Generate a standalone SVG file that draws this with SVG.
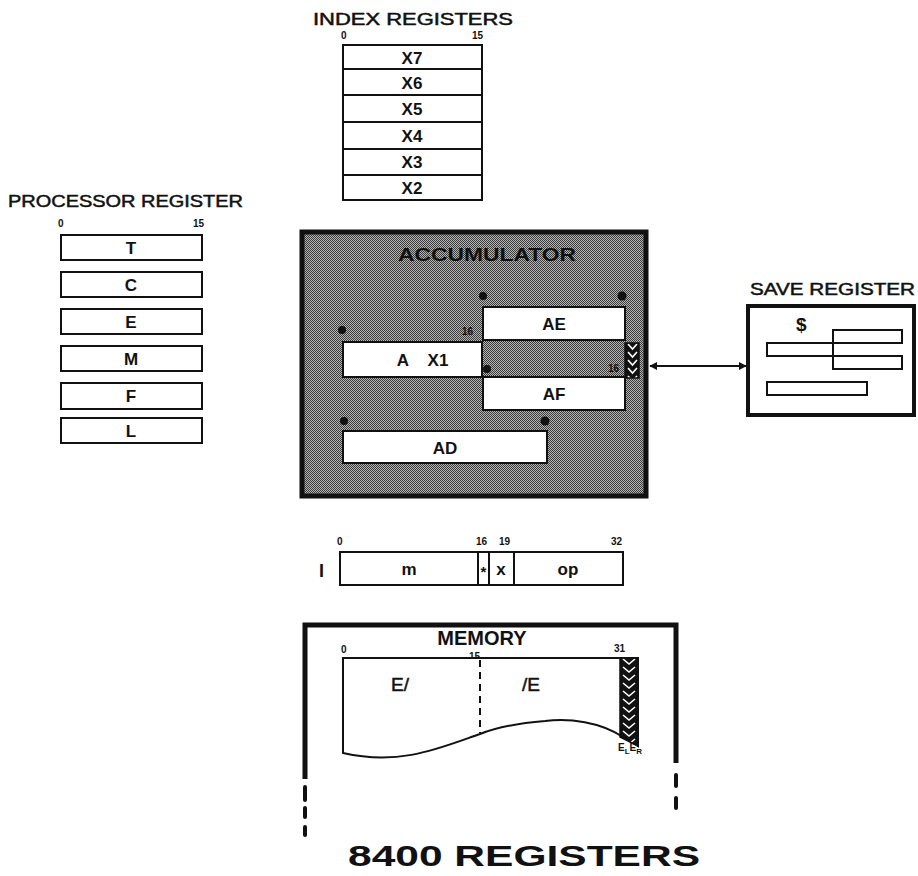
<svg xmlns="http://www.w3.org/2000/svg" width="918" height="876" viewBox="0 0 918 876">
<style>
.t{font-family:"Liberation Sans",Arial,sans-serif;fill:#111;}
.b{font-weight:bold;}
.box{fill:#fff;stroke:#111;stroke-width:2;}
.sm{font-family:"Liberation Sans",Arial,sans-serif;font-weight:bold;font-size:10px;fill:#111;}
.lbl{font-family:"Liberation Sans",Arial,sans-serif;font-weight:bold;font-size:17px;fill:#111;text-anchor:middle;}
.ttl{font-family:"Liberation Sans",Arial,sans-serif;font-size:17px;fill:#111;stroke:#111;stroke-width:0.5;}
</style>
<defs>
<pattern id="ht" width="2" height="2" patternUnits="userSpaceOnUse">
<rect width="2" height="2" fill="#b4b4b4"/>
<rect x="0" y="0" width="1" height="1" fill="#3c3c3c"/>
<rect x="1" y="1" width="1" height="1" fill="#3c3c3c"/>
</pattern>
<pattern id="chev" width="18" height="8" patternUnits="userSpaceOnUse" x="620" y="658">
<rect width="18" height="8" fill="#111"/>
<polyline points="3,1 9,6 15,1" fill="none" stroke="#fff" stroke-width="1.6"/>
</pattern>
<pattern id="chev2" width="15" height="8" patternUnits="userSpaceOnUse" x="625" y="343">
<rect width="15" height="8" fill="#111"/>
<polyline points="3,1 7.5,6 12,1" fill="none" stroke="#fff" stroke-width="1.6"/>
</pattern>
<marker id="ah" viewBox="0 0 10 10" refX="9" refY="5" markerWidth="8" markerHeight="8" orient="auto-start-reverse" markerUnits="userSpaceOnUse">
<path d="M0,0 L10,5 L0,10 z" fill="#111"/>
</marker>
</defs>
<rect width="918" height="876" fill="#fff"/>

<g id="index-registers">
<text class="ttl" x="313" y="25" textLength="200" lengthAdjust="spacingAndGlyphs">INDEX REGISTERS</text>
<text class="sm" x="341" y="39">0</text>
<text class="sm" x="472" y="39">15</text>
<rect class="box" x="343" y="45" width="139" height="155"/>
<line x1="343" y1="69" x2="482" y2="69" stroke="#111" stroke-width="2"/>
<line x1="343" y1="95" x2="482" y2="95" stroke="#111" stroke-width="2"/>
<line x1="343" y1="122" x2="482" y2="122" stroke="#111" stroke-width="2"/>
<line x1="343" y1="149" x2="482" y2="149" stroke="#111" stroke-width="2"/>
<line x1="343" y1="175" x2="482" y2="175" stroke="#111" stroke-width="2"/>
<text class="lbl" x="412" y="64">X7</text>
<text class="lbl" x="412" y="89">X6</text>
<text class="lbl" x="412" y="115">X5</text>
<text class="lbl" x="412" y="142">X4</text>
<text class="lbl" x="412" y="168">X3</text>
<text class="lbl" x="412" y="194">X2</text>
</g>

<g id="processor-register">
<text class="ttl" x="8" y="207" textLength="235" lengthAdjust="spacingAndGlyphs">PROCESSOR REGISTER</text>
<text class="sm" x="58" y="227">0</text>
<text class="sm" x="193" y="227">15</text>
<rect class="box" x="61" y="235" width="141" height="25"/>
<rect class="box" x="61" y="272" width="141" height="25"/>
<rect class="box" x="61" y="309" width="141" height="25"/>
<rect class="box" x="61" y="346" width="141" height="25"/>
<rect class="box" x="61" y="383" width="141" height="26"/>
<rect class="box" x="61" y="418" width="141" height="25"/>
<text class="lbl" x="131" y="254">T</text>
<text class="lbl" x="131" y="291">C</text>
<text class="lbl" x="131" y="328">E</text>
<text class="lbl" x="131" y="365">M</text>
<text class="lbl" x="131" y="402">F</text>
<text class="lbl" x="131" y="437">L</text>
</g>

<g id="accumulator">
<rect x="302" y="232" width="344" height="264" fill="url(#ht)" stroke="#111" stroke-width="5"/>
<text class="t b" x="487" y="261" font-size="19" text-anchor="middle" fill="#222" textLength="178" lengthAdjust="spacingAndGlyphs">ACCUMULATOR</text>
<line x1="483" y1="341" x2="625" y2="341" stroke="#111" stroke-width="1" stroke-dasharray="1,1"/>
<line x1="483" y1="376" x2="625" y2="376" stroke="#111" stroke-width="1" stroke-dasharray="1,1"/>
<rect class="box" x="343" y="342" width="139" height="35"/>
<rect class="box" x="483" y="307" width="142" height="33"/>
<rect class="box" x="483" y="377" width="142" height="33"/>
<rect class="box" x="343" y="431" width="204" height="32"/>
<rect x="625" y="343" width="14" height="35" fill="url(#chev2)" stroke="#111" stroke-width="1.5"/>
<text class="lbl" x="418" y="366"><tspan x="403">A</tspan><tspan x="438">X1</tspan></text>
<text class="lbl" x="554" y="330">AE</text>
<text class="lbl" x="554" y="400">AF</text>
<text class="lbl" x="445" y="454">AD</text>
<circle cx="342" cy="330" r="4" fill="#111"/>
<circle cx="483" cy="296" r="4" fill="#111"/>
<circle cx="622" cy="296" r="4.5" fill="#111"/>
<circle cx="487" cy="369" r="4" fill="#111"/>
<circle cx="344" cy="421" r="4" fill="#111"/>
<circle cx="545" cy="421" r="4.5" fill="#111"/>
<text class="sm" x="462" y="335" fill="#111">16</text>
<text class="sm" x="608" y="372" fill="#111">16</text>
</g>

<g id="save-register">
<text class="ttl" x="750" y="295" textLength="165" lengthAdjust="spacingAndGlyphs">SAVE REGISTER</text>
<rect x="748" y="306" width="166" height="109" fill="#fff" stroke="#111" stroke-width="4"/>
<text class="t b" x="796" y="331" font-size="19">$</text>
<rect x="767" y="343" width="66" height="13" fill="none" stroke="#111" stroke-width="2"/>
<rect x="833" y="330" width="69" height="13" fill="none" stroke="#111" stroke-width="2"/>
<rect x="833" y="356" width="69" height="13" fill="none" stroke="#111" stroke-width="2"/>
<rect x="767" y="382" width="100" height="13" fill="none" stroke="#111" stroke-width="2"/>
</g>

<g id="instruction-word">
<text class="t b" x="319" y="577" font-size="18" font-family="Liberation Serif,serif">I</text>
<text class="sm" x="337" y="545">0</text>
<text class="sm" x="476" y="545">16</text>
<text class="sm" x="499" y="545">19</text>
<text class="sm" x="611" y="545">32</text>
<rect class="box" x="340" y="552" width="283" height="33"/>
<line x1="478" y1="552" x2="478" y2="585" stroke="#111" stroke-width="2"/>
<line x1="489" y1="552" x2="489" y2="585" stroke="#111" stroke-width="2"/>
<line x1="514" y1="552" x2="514" y2="585" stroke="#111" stroke-width="2"/>
<text class="lbl" x="409" y="575">m</text>
<text class="t b" x="483.5" y="577" font-size="15" text-anchor="middle">*</text>
<text class="lbl" x="501" y="575">x</text>
<text class="lbl" x="568" y="575">op</text>
</g>

<g id="memory">
<path d="M305,779 V625 H676 V763" fill="none" stroke="#111" stroke-width="5"/>
<g stroke="#111" stroke-width="4" stroke-linecap="round">
<line x1="305" y1="787" x2="305" y2="800"/>
<line x1="305" y1="808" x2="305" y2="817"/>
<line x1="305" y1="827" x2="305" y2="835"/>
<line x1="676" y1="775" x2="676" y2="786"/>
<line x1="676" y1="798" x2="676" y2="808"/>
</g>
<text class="t b" x="482" y="645" font-size="20" text-anchor="middle">MEMORY</text>
<text class="sm" x="341" y="653" font-size="9">0</text>
<text class="sm" x="469" y="660" font-size="8">15</text>
<text class="sm" x="614" y="652" font-size="9">31</text>
<path d="M343,753 V658 H638 V746 L623,737 C600,722 570,718 545,721 C520,723 495,728 480,734 C440,748 400,766 343,753 Z" fill="#fff" stroke="#111" stroke-width="2"/>
<path d="M620,658 H638 V746 L620,737 Z" fill="url(#chev)" stroke="#111" stroke-width="1.5"/>
<line x1="480" y1="660" x2="480" y2="733" stroke="#111" stroke-width="2" stroke-dasharray="7,5"/>
<text class="t" x="400" y="691" font-size="19" text-anchor="middle" stroke="#111" stroke-width="0.5">E/</text>
<text class="t" x="531" y="691" font-size="19" text-anchor="middle" stroke="#111" stroke-width="0.5">/E</text>
<text class="sm" x="618" y="751">E<tspan font-size="8" dy="3">L</tspan><tspan dy="-3">E</tspan><tspan font-size="8" dy="3">R</tspan></text>
</g>

<g id="connectors">
<line x1="650" y1="366" x2="746" y2="366" stroke="#111" stroke-width="2" marker-start="url(#ah)" marker-end="url(#ah)"/>
</g>

<text class="t b" x="348" y="866" font-size="29" textLength="352" lengthAdjust="spacingAndGlyphs">8400 REGISTERS</text>
</svg>
